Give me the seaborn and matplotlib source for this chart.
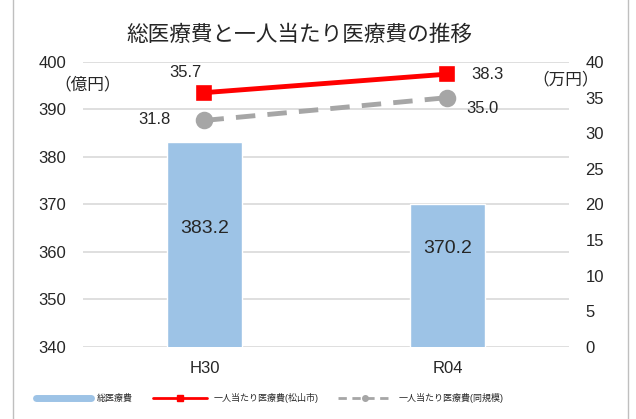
import matplotlib
matplotlib.use("Agg")
import matplotlib.pyplot as plt
from matplotlib.lines import Line2D
from matplotlib.patches import Rectangle
import pandas as pd
import seaborn as sns

# data
years = ["H30", "R04"]
total_cost = [383.2, 370.2]          # 億円
per_capita_matsuyama = [35.7, 38.3]  # 万円
per_capita_similar = [31.8, 35.0]    # 万円

title = "総医療費と一人当たり医療費の推移"
labels = ["総医療費", "一人当たり医療費(松山市)", "一人当たり医療費(同規模)"]

BAR = "#9DC3E6"
RED = "#FF0000"
GRAY = "#A6A6A6"

sns.set_theme(style="white")
plt.rcParams['font.family'] = ['Liberation Sans', 'Noto Sans CJK JP']

df = pd.DataFrame({"year": years, "total": total_cost,
                   "matsuyama": per_capita_matsuyama, "similar": per_capita_similar})

fig = plt.figure(figsize=(6.36, 4.19), dpi=100)
ax = fig.add_axes([0.1305, 0.172, 0.764, 0.68])

sns.barplot(data=df, x="year", y="total", order=years, color=BAR,
            width=0.31, saturation=1, ax=ax, zorder=2)
ax.set_ylim(340, 400)
ax.set_yticks(range(340, 401, 10))
ax.set_xlim(-0.5, 1.5)
ax.grid(axis="y", color="#D9D9D9", lw=1.2, zorder=0)
ax.set_axisbelow(True)
for s in ax.spines.values():
    s.set_visible(False)
ax.tick_params(axis="both", length=0, labelsize=12, pad=10)
ax.tick_params(axis="y", pad=12)
ax.set_xlabel("")
ax.set_ylabel("")
for i, v in enumerate(total_cost):
    ax.text(i, 365 if i == 0 else 360.8, f"{v:.1f}", ha="center", va="center", fontsize=14)

ax2 = ax.twinx()
sns.pointplot(data=df, x="year", y="matsuyama", order=years, color=RED,
              markers="s", markersize=9, linewidth=3.5, ax=ax2)
sns.pointplot(data=df, x="year", y="similar", order=years, color=GRAY,
              markers="o", markersize=10, linewidth=3.5, linestyles=(0, (4, 2.5)), ax=ax2)
ax2.set_xlim(-0.5, 1.5)
ax2.set_ylim(0, 40)
ax2.set_yticks(range(0, 41, 5))
for s in ax2.spines.values():
    s.set_visible(False)
ax2.tick_params(axis="y", length=0, labelsize=12, pad=12)
ax2.set_ylabel("")
ax2.set_xlabel("")

# point labels
ax2.text(0 - 0.08, per_capita_matsuyama[0] + 2.8, f"{per_capita_matsuyama[0]:.1f}", ha="center", va="center", fontsize=12)
ax2.text(1 + 0.165, per_capita_matsuyama[1], f"{per_capita_matsuyama[1]:.1f}", ha="center", va="center", fontsize=12)
ax2.text(0 - 0.205, per_capita_similar[0] + 0.1, f"{per_capita_similar[0]:.1f}", ha="center", va="center", fontsize=12)
ax2.text(1 + 0.145, per_capita_similar[1] - 1.5, f"{per_capita_similar[1]:.1f}", ha="center", va="center", fontsize=12)

# units
fig.text(88 / 636, 1 - 84 / 419, "（億円）", ha="center", va="center", fontsize=12)
fig.text(566 / 636, 1 - 79 / 419, "（万円）", ha="center", va="center", fontsize=12)

fig.text(299 / 636, 1 - 35 / 419, title, ha="center", va="center", fontsize=15.6)

handles = [
    Line2D([], [], color=BAR, lw=5),
    Line2D([], [], color=RED, lw=2, marker="s", markersize=4),
    Line2D([], [], color=GRAY, lw=2, ls=(0, (3, 2)), marker="o", markersize=4),
]
fig.legend(handles, labels, loc="center", bbox_to_anchor=(270 / 636, 1 - 398 / 419),
           ncol=3, frameon=False, fontsize=6.5, handlelength=6, columnspacing=2.2,
           handletextpad=0.7)

fig.patches.append(Rectangle((13 / 636, -0.01), 615 / 636, 1.02, transform=fig.transFigure,
                             fill=False, ec="#BFBFBF", lw=1))

fig.savefig("out.png", dpi=100)
